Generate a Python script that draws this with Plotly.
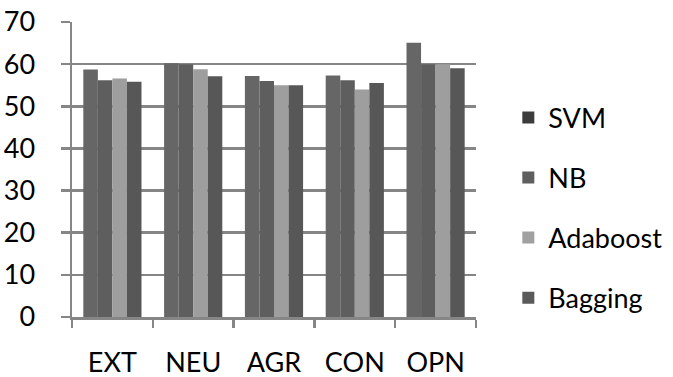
import plotly.graph_objects as go

categories = ["EXT", "NEU", "AGR", "CON", "OPN"]
series_names = ["SVM", "NB", "Adaboost", "Bagging"]
svm = [58.7, 60.2, 57.2, 57.3, 65.1]
nb = [56.2, 60.0, 56.0, 56.2, 60.0]
adaboost = [56.6, 58.8, 55.0, 54.0, 60.0]
bagging = [55.8, 57.1, 55.0, 55.5, 59.0]
y_ticks = [0, 10, 20, 30, 40, 50, 60, 70]

values = [svm, nb, adaboost, bagging]
bar_colors = ["#666666", "#5e5e5e", "#9e9e9e", "#575757"]
legend_colors = ["#3c3c3c", "#5f5f5f", "#a0a0a0", "#5a5a5a"]

fig = go.Figure()
for name, vals, c in zip(series_names, values, bar_colors):
    fig.add_trace(go.Bar(x=categories, y=vals, name=name, marker=dict(color=c, line=dict(width=0)),
                         showlegend=False))
for name, c in zip(series_names, legend_colors):
    fig.add_trace(go.Scatter(x=[None], y=[None], name=name, legendgroup=name, mode="markers",
                             marker=dict(color=c, symbol="square", size=12, line=dict(width=0)),
                             showlegend=True))

font = "Lato, Carlito, Calibri, sans-serif"
fig.update_layout(
    width=673, height=377,
    margin=dict(l=72, r=197, t=22, b=60, autoexpand=False),
    paper_bgcolor="white", plot_bgcolor="white",
    barmode="group", bargap=0.28, bargroupgap=0,
    font=dict(family=font, size=27, color="black"),
    showlegend=True,
    legend=dict(x=1.08, y=0.37, xanchor="left", yanchor="middle",
                traceorder="grouped", tracegroupgap=22, itemwidth=30,
                font=dict(family=font, size=27, color="black"),
                bgcolor="rgba(0,0,0,0)"),
    xaxis=dict(type="category", showline=True, linecolor="#868686", linewidth=2.5,
               ticks="outside", tickson="boundaries", ticklen=8, tickwidth=2.5, tickcolor="#868686",
               ticklabelstandoff=20, showgrid=False, fixedrange=True),
    yaxis=dict(range=[0, 70], tickvals=y_ticks, showline=True, linecolor="#868686", linewidth=2.5,
               ticks="outside", ticklen=9, tickwidth=2.5, tickcolor="#868686",
               showgrid=True, gridcolor="#868686", gridwidth=2.5, zeroline=False,
               ticklabelstandoff=20, fixedrange=True),
)
fig.write_html("out.html", config={"displayModeBar": False, "staticPlot": True},
               post_script="document.body.style.margin='0';document.body.style.overflow='hidden';")
